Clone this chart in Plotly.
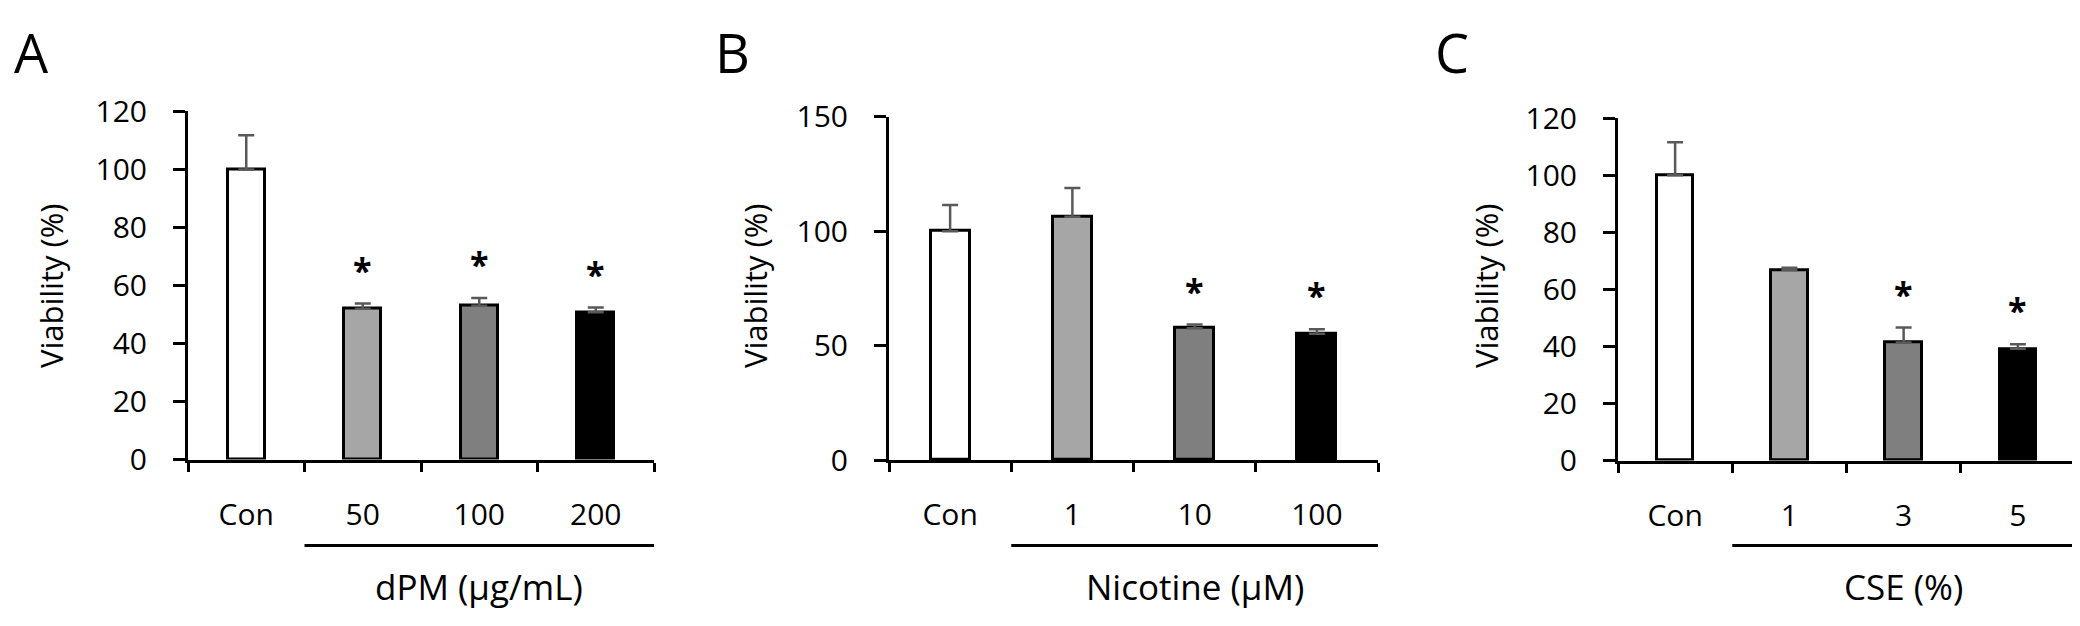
import plotly.graph_objects as go

# ---- data ----
cats_a = ["Con", "50", "100", "200"]
means_a = [100, 52, 53, 50.8]
err_a = [11.8, 1.8, 2.7, 1.6]
sig_a = [False, True, True, True]
group_a = "dPM (µg/mL)"

cats_b = ["Con", "1", "10", "100"]
means_b = [100, 106.3, 57.6, 55.2]
err_b = [11.5, 12.6, 1.6, 2.0]
sig_b = [False, False, True, True]
group_b = "Nicotine (µM)"

cats_c = ["Con", "1", "3", "5"]
means_c = [100, 66.8, 41.4, 39.2]
err_c = [11.6, 0.8, 5.2, 1.6]
sig_c = [False, False, True, True]
group_c = "CSE (%)"

yranges = [[0, 120], [0, 150], [0, 120]]
ydticks = [20, 50, 20]
letters = ["A", "B", "C"]
ytitle = "Viability (%)"

# ---- styling / layout ----
W, H = 2080, 626
bar_colors = ["#ffffff", "#a6a6a6", "#7f7f7f", "#000000"]
FONT = "Open Sans"

# pixel layout of each panel: (x_left, x_right, y_top, y_bottom)
px_dom = [(180, 646, 87.3, 460.5), (881, 1370, 93.0, 461.0), (1610, 2067, 94.5, 461.5)]
ytitle_x = [43, 747, 1478]
letter_x = [4, 705, 1425]
bracket_y = 552.7
group_y = 597
ytitle_y = 274.5
letter_y = 24

panels = [
    (cats_a, means_a, err_a, sig_a, group_a),
    (cats_b, means_b, err_b, sig_b, group_b),
    (cats_c, means_c, err_c, sig_c, group_c),
]

fig = go.Figure()
annotations = []
shapes = []
layout_axes = {}

for i, (cats, means, errs, sigs, group) in enumerate(panels):
    n = "" if i == 0 else str(i + 1)
    xa, ya = "x" + n, "y" + n
    x0, x1, yt, yb = px_dom[i]
    fig.add_trace(go.Bar(
        x=cats, y=means, xaxis=xa, yaxis=ya, width=0.32,
        marker=dict(color=bar_colors, line=dict(color="black", width=3)),
        error_y=dict(type="data", symmetric=False, array=errs,
                     arrayminus=[0] * len(errs), color="#595959",
                     thickness=2.5, width=8),
        showlegend=False, hoverinfo="skip",
    ))
    layout_axes["xaxis" + n] = dict(
        domain=[x0 / W, x1 / W], anchor=ya, type="category",
        range=[-0.5, len(cats) - 0.5], tickson="boundaries",
        ticks="outside", ticklen=9, tickwidth=3, tickcolor="black",
        showline=True, linewidth=3, linecolor="black", showgrid=False,
        zeroline=False, ticklabelstandoff=26,
        tickfont=dict(family=FONT, size=30, color="black"),
    )
    layout_axes["yaxis" + n] = dict(
        domain=[1 - yb / H, 1 - yt / H], anchor=xa,
        range=yranges[i], dtick=ydticks[i], tick0=0,
        ticks="outside", ticklen=12, tickwidth=3, tickcolor="black",
        showline=True, linewidth=3, linecolor="black", showgrid=False,
        zeroline=False, ticklabelstandoff=20,
        tickfont=dict(family=FONT, size=30, color="black"),
    )
    # significance stars (placed by category index)
    for j, (m, e, s) in enumerate(zip(means, errs, sigs)):
        if s:
            annotations.append(dict(
                x=j, y=m + e, xref=xa, yref=ya, text="<b>*</b>",
                showarrow=False, yanchor="middle", yshift=34,
                font=dict(family=FONT, size=34, color="black")))
    # group bracket line and label
    shapes.append(dict(type="line", xref=xa, yref="paper",
                       x0=0.5, x1=len(cats) - 0.5,
                       y0=1 - bracket_y / H, y1=1 - bracket_y / H,
                       line=dict(color="black", width=3)))
    annotations.append(dict(
        x=len(cats) / 2, y=1 - group_y / H, xref=xa, yref="paper",
        text=group, showarrow=False, xanchor="center", yanchor="middle",
        font=dict(family=FONT, size=35, color="black")))
    # y title
    annotations.append(dict(
        x=ytitle_x[i] / W, y=1 - ytitle_y / H, xref="paper", yref="paper",
        text=ytitle, textangle=-90, showarrow=False,
        xanchor="center", yanchor="middle",
        font=dict(family=FONT, size=31, color="black")))
    # panel letter
    annotations.append(dict(
        x=letter_x[i] / W, y=1 - letter_y / H, xref="paper", yref="paper",
        text=letters[i], showarrow=False, xanchor="left", yanchor="middle",
        font=dict(family=FONT, size=54, color="black")))

fig.update_layout(
    width=W, height=H, margin=dict(l=0, r=0, t=0, b=0),
    paper_bgcolor="white", plot_bgcolor="white",
    bargap=0, annotations=annotations, shapes=shapes,
    **layout_axes,
)

fig.write_html("out.html")
